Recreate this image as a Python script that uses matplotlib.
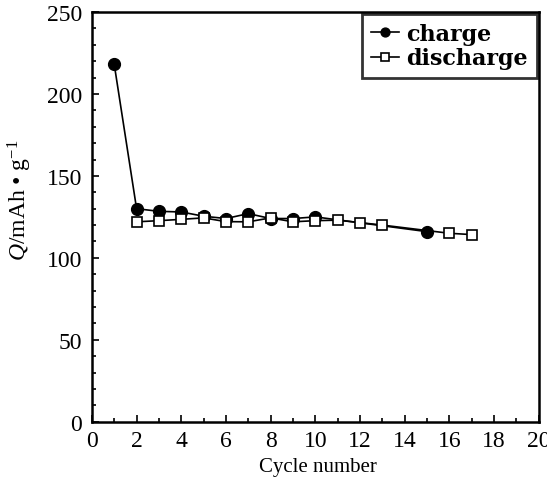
import matplotlib
matplotlib.use("Agg")
import matplotlib.pyplot as plt
from matplotlib.ticker import MultipleLocator

plt.rcParams['font.family'] = ['Liberation Serif', 'DejaVu Serif']
plt.rcParams['mathtext.fontset'] = 'custom'
plt.rcParams['mathtext.rm'] = 'Liberation Serif'
plt.rcParams['mathtext.it'] = 'Liberation Serif:italic'

charge_cycle = [1, 2, 3, 4, 5, 6, 7, 8, 9, 10, 15]
charge_q = [218, 130, 128.4, 128, 125.4, 124, 127, 124, 124, 125, 116]
discharge_cycle = [2, 3, 4, 5, 6, 7, 8, 9, 10, 11, 12, 13, 16, 17]
discharge_q = [122, 122.7, 123.5, 124.4, 122.1, 122, 124.4, 122, 122.7, 123, 121.5, 120, 115, 114.2]
x_ticks = [0, 2, 4, 6, 8, 10, 12, 14, 16, 18, 20]
y_ticks = [0, 50, 100, 150, 200, 250]

fig = plt.figure(figsize=(5.47, 4.81), dpi=100)
ax = fig.add_axes([0.168, 0.121, 0.817, 0.852])

ax.plot(charge_cycle, charge_q, color='black', lw=1.2, marker='o', ms=8.5,
        mfc='black', mec='black', label='charge', zorder=3)
ax.plot(discharge_cycle, discharge_q, color='black', lw=1.2, marker='s', ms=7.5,
        mfc='white', mec='black', mew=1.2, label='discharge', zorder=4)

ax.set_xlim(0, 20)
ax.set_ylim(0, 250)
ax.set_xticks(x_ticks)
ax.set_yticks(y_ticks)
ax.xaxis.set_minor_locator(MultipleLocator(1))
ax.yaxis.set_minor_locator(MultipleLocator(10))
ax.tick_params(which='both', direction='in', top=False, right=False, labelsize=17, width=1.2)
ax.tick_params(axis='x', pad=6)
ax.tick_params(axis='y', pad=7)
ax.tick_params(which='major', length=5)
ax.tick_params(which='minor', length=3)
for s in ax.spines.values():
    s.set_linewidth(1.8)

ax.set_xlabel('Cycle number', fontsize=15)
ax.xaxis.set_label_coords(0.505, -0.085)
ax.set_ylabel(r'$Q$/mAh • g$^{-1}$', fontsize=17)
ax.yaxis.set_label_coords(-0.13, 0.543)

leg = ax.legend(loc='upper right', prop={'family': 'DejaVu Serif', 'weight': 'bold', 'size': 16},
                frameon=True, fancybox=False, edgecolor='black', handlelength=1.3,
                handletextpad=0.3, borderpad=0.4, labelspacing=0.1, borderaxespad=0.1,
                markerscale=0.75)
leg.get_frame().set_linewidth(2.0)

fig.savefig('out.png', dpi=100)
